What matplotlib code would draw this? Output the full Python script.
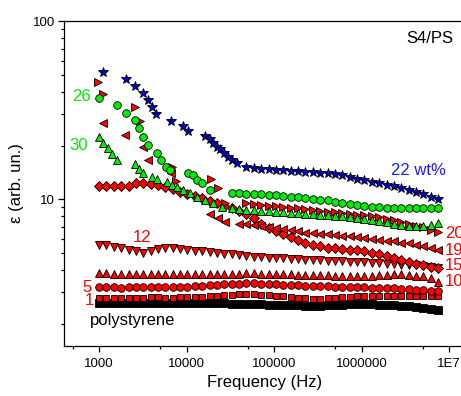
import numpy as np
import matplotlib
matplotlib.use('Agg')
import matplotlib.pyplot as plt
from matplotlib.ticker import LogLocator, NullFormatter

plt.rcParams['font.family'] = ['Liberation Sans', 'DejaVu Sans']

# measurement frequencies of the dense part of the sweeps (Hz)
freq = 10 ** np.linspace(3, 6.875, 47)

# polystyrene and low loadings, full sweep
ps = [2.6, 2.6, 2.61, 2.6, 2.6, 2.6, 2.61, 2.61, 2.6, 2.6, 2.6, 2.6, 2.6, 2.6, 2.6, 2.6,
      2.6, 2.6, 2.59, 2.59, 2.58, 2.57, 2.57, 2.56, 2.56, 2.55, 2.54, 2.54, 2.53, 2.53,
      2.53, 2.54, 2.55, 2.56, 2.57, 2.57, 2.57, 2.57, 2.56, 2.55, 2.54, 2.52, 2.5, 2.48,
      2.45, 2.42, 2.38]
wt1 = [2.8, 2.8, 2.8, 2.79, 2.8, 2.8, 2.8, 2.81, 2.81, 2.8, 2.8, 2.81, 2.82, 2.83, 2.84,
       2.86, 2.88, 2.9, 2.91, 2.92, 2.92, 2.92, 2.91, 2.9, 2.88, 2.86, 2.83, 2.8, 2.78,
       2.77, 2.77, 2.78, 2.8, 2.82, 2.84, 2.86, 2.87, 2.88, 2.88, 2.88, 2.87, 2.87, 2.87,
       2.86, 2.86, 2.85, 2.85]
wt5 = [3.2, 3.2, 3.2, 3.19, 3.2, 3.2, 3.2, 3.2, 3.21, 3.21, 3.21, 3.22, 3.23, 3.25, 3.27,
       3.29, 3.31, 3.33, 3.35, 3.36, 3.37, 3.37, 3.36, 3.35, 3.34, 3.32, 3.3, 3.28, 3.27,
       3.26, 3.25, 3.24, 3.23, 3.22, 3.22, 3.21, 3.2, 3.19, 3.18, 3.17, 3.16, 3.15, 3.13,
       3.11, 3.09, 3.07, 3.05]
wt10 = [3.85, 3.84, 3.82, 3.8, 3.8, 3.79, 3.8, 3.8, 3.79, 3.8, 3.81, 3.8, 3.8, 3.79, 3.78,
        3.78, 3.79, 3.8, 3.81, 3.82, 3.83, 3.83, 3.82, 3.82, 3.81, 3.8, 3.78, 3.77, 3.76,
        3.75, 3.75, 3.74, 3.73, 3.72, 3.72, 3.71, 3.71, 3.72, 3.74, 3.77, 3.79, 3.78, 3.75,
        3.72, 3.7, 3.6, 3.45]
wt12 = [5.55, 5.5, 5.4, 5.3, 5.2, 5.1, 5.0, 5.15, 5.25, 5.3, 5.3, 5.25, 5.2, 5.15, 5.1,
        5.05, 5.0, 4.95, 4.9, 4.85, 4.8, 4.75, 4.75, 4.7, 4.7, 4.65, 4.6, 4.6, 4.55, 4.55,
        4.55, 4.5, 4.5, 4.5, 4.45, 4.45, 4.45, 4.4, 4.4, 4.35, 4.35, 4.3, 4.3, 4.25, 4.2,
        4.15, 4.1]
wt15 = [11.8, 11.8, 11.8, 11.8, 11.9, 12.3, 12.3, 12.2, 12.0, 11.7, 11.4, 11.0, 10.7,
        10.4, 10.1, 9.8, 9.5, 9.2, 8.9, 8.6, 8.3, 7.8, 7.3, 6.9, 6.6, 6.35, 6.1, 5.9, 5.7,
        5.55, 5.45, 5.35, 5.3, 5.25, 5.2, 5.2, 5.15, 5.0, 4.9, 4.8, 4.65, 4.55, 4.45, 4.35,
        4.25, 4.15, 4.1]

# higher loadings: scattered low-frequency points, then the dense part on freq[k:]
wt19_f = [1100, 2000, 3200, 3600, 6600, 18600, 22900, 27500]
wt19_lo = [26.7, 22.8, 19.6, 16.7, 14.0, 8.3, 7.8, 7.4]
wt19 = [7.3, 7.25, 7.15, 7.05, 6.95, 6.9, 6.8, 6.7, 6.6, 6.5, 6.45, 6.4, 6.35, 6.3, 6.25,
        6.2, 6.1, 6.05, 6.0, 5.9, 5.85, 5.8, 5.7, 5.65, 5.55, 5.45, 5.3, 5.2]

wt20_f = [975, 1110, 2580, 2940, 6830, 7590, 19000, 22800, 27500]
wt20_lo = [45.4, 38.9, 32.9, 27.4, 15.1, 12.6, 12.9, 11.5, 9.5]
wt20 = [9.5, 9.4, 9.3, 9.2, 9.1, 9.0, 8.95, 8.9, 8.8, 8.7, 8.6, 8.5, 8.45, 8.4, 8.3, 8.2,
        8.1, 8.0, 7.9, 7.75, 7.6, 7.45, 7.3, 7.1, 6.95, 6.75, 6.55]

wt30_f = [1000, 1110, 1270, 1410, 1600, 2580, 2870, 3180, 4030, 4600, 6000, 6850, 7800,
          9100, 11000, 13200, 16300, 20100, 25400]
wt30_lo = [22.3, 20.7, 19.4, 17.9, 16.5, 15.8, 14.8, 14.0, 13.4, 13.0, 12.5, 12.0, 11.7,
           11.2, 10.8, 10.3, 9.9, 9.5, 9.0]
wt30 = [8.9, 8.8, 8.7, 8.65, 8.6, 8.55, 8.5, 8.45, 8.4, 8.35, 8.3, 8.25, 8.2, 8.1, 8.05,
        8.0, 7.9, 7.8, 7.75, 7.6, 7.5, 7.4, 7.3, 7.2, 7.1, 7.05, 7.1, 7.2, 7.35]

wt26_f = [1000, 1600, 2040, 2580, 2870, 3180, 3630, 4600, 5110, 5830, 6480, 10400, 11900,
          13200, 15100, 18500]
wt26_lo = [36.9, 33.7, 30.4, 27.8, 25.1, 22.3, 20.1, 18.1, 16.5, 15.1, 14.6, 14.0, 13.7,
           12.8, 12.3, 11.2]
wt26 = [10.8, 10.8, 10.75, 10.7, 10.65, 10.6, 10.5, 10.45, 10.35, 10.25, 10.15, 10.05,
        9.95, 9.85, 9.7, 9.55, 9.4, 9.25, 9.15, 9.05, 9.0, 8.95, 8.95, 8.9, 8.9, 8.9, 8.9,
        8.9, 8.9]

wt22_f = [1110, 2040, 2580, 3180, 3630, 4030, 4490, 6650, 9120, 10400, 16300, 18600, 20100,
          22300, 24100, 26800, 29800, 33000, 38000]
wt22_lo = [51.7, 47.2, 43.2, 39.4, 36.0, 32.9, 30.0, 27.4, 25.7, 24.1, 22.5, 21.7, 20.7,
           19.7, 19.1, 18.1, 17.3, 16.6, 15.9]
wt22 = [15.2, 15.0, 14.8, 14.7, 14.6, 14.5, 14.45, 14.4, 14.3, 14.2, 14.1, 14.0, 13.85,
        13.6, 13.3, 13.0, 12.8, 12.5, 12.3, 12.0, 11.8, 11.6, 11.3, 11.0, 10.7, 10.3, 10.0]

red = '#ff0000'
green = '#00ee00'

fig = plt.figure(figsize=(4.61, 3.96), dpi=100)
ax = fig.add_axes([64/461, 50/396, 402/461, 325/396])


def pts(f, v, marker, color, ms=5):
    ax.plot(f, v, ls='none', marker=marker, mfc=color, mec='black', mew=0.6, ms=ms)


pts(freq, ps, 's', 'black', 5.2)
pts(freq, wt1, 's', red, 5)
pts(freq, wt5, 'o', red, 5.5)
pts(freq, wt10, '^', red, 6)
pts(freq, wt12, 'v', red, 6)
pts(freq, wt15, 'D', red, 4.8)
pts(wt19_f, wt19_lo, '<', red, 6)
pts(freq[19:], wt19, '<', red, 6)
pts(wt20_f, wt20_lo, '>', red, 6)
pts(freq[20:], wt20, '>', red, 6)
pts(wt30_f, wt30_lo, '^', green, 6)
pts(freq[18:], wt30, '^', green, 6)
pts(wt26_f, wt26_lo, 'o', green, 5.5)
pts(freq[18:], wt26, 'o', green, 5.5)
pts(wt22_f, wt22_lo, '*', '#0000c8', 7)
pts(freq[20:], wt22, '*', '#0000c8', 7)

ax.set_xscale('log')
ax.set_yscale('log')
ax.set_xlim(398, 1.56e7)
ax.set_ylim(1.5, 100)

ax.set_xticks([1e3, 1e4, 1e5, 1e6, 1e7], labels=['1000', '10000', '100000', '1000000', '1E7'])
ax.set_xticks([500, 5e3, 5e4, 5e5, 5e6], minor=True)
ax.set_yticks([10, 100], labels=['10', '100'])
ax.yaxis.set_minor_locator(LogLocator(base=10, subs=np.arange(2, 10)))
ax.yaxis.set_minor_formatter(NullFormatter())
ax.tick_params(which='both', direction='out', width=0.9, labelsize=9.5, top=False, right=False)
ax.tick_params(which='major', length=4.5)
ax.tick_params(which='minor', length=2.5)
ax.tick_params(axis='x', pad=4)
ax.tick_params(axis='y', pad=2)
for s in ax.spines.values():
    s.set_linewidth(0.9)

ax.set_xlabel('Frequency (Hz)', fontsize=12)
ax.xaxis.set_label_coords(0.5, -0.089)
ax.set_ylabel('ε (arb. un.)', fontsize=12)
ax.yaxis.set_label_coords(-0.0995, 0.5)

kw = dict(fontsize=12, ha='center', va='center')
ax.text(622, 37.9, '26', color=green, **kw)
ax.text(591, 19.9, '30', color=green, **kw)
ax.text(3100, 6.12, '12', color=red, **kw)
ax.text(730, 3.2, '5', color=red, **kw)
ax.text(769, 2.71, '1', color=red, **kw)
ax.text(789, 2.09, 'polystyrene', color='black', fontsize=12, ha='left', va='center')
ax.text(4.43e6, 14.4, '22 wt%', color='#1a1aff', **kw)
ax.text(6.07e6, 80.2, 'S4/PS', color='black', **kw)
for lab, v in [('20', 6.44), ('19', 5.16), ('15', 4.25), ('10', 3.45)]:
    ax.text(9.0e6, v, lab, color=red, fontsize=12, ha='left', va='center', clip_on=False)

fig.savefig('out.png', dpi=100)
